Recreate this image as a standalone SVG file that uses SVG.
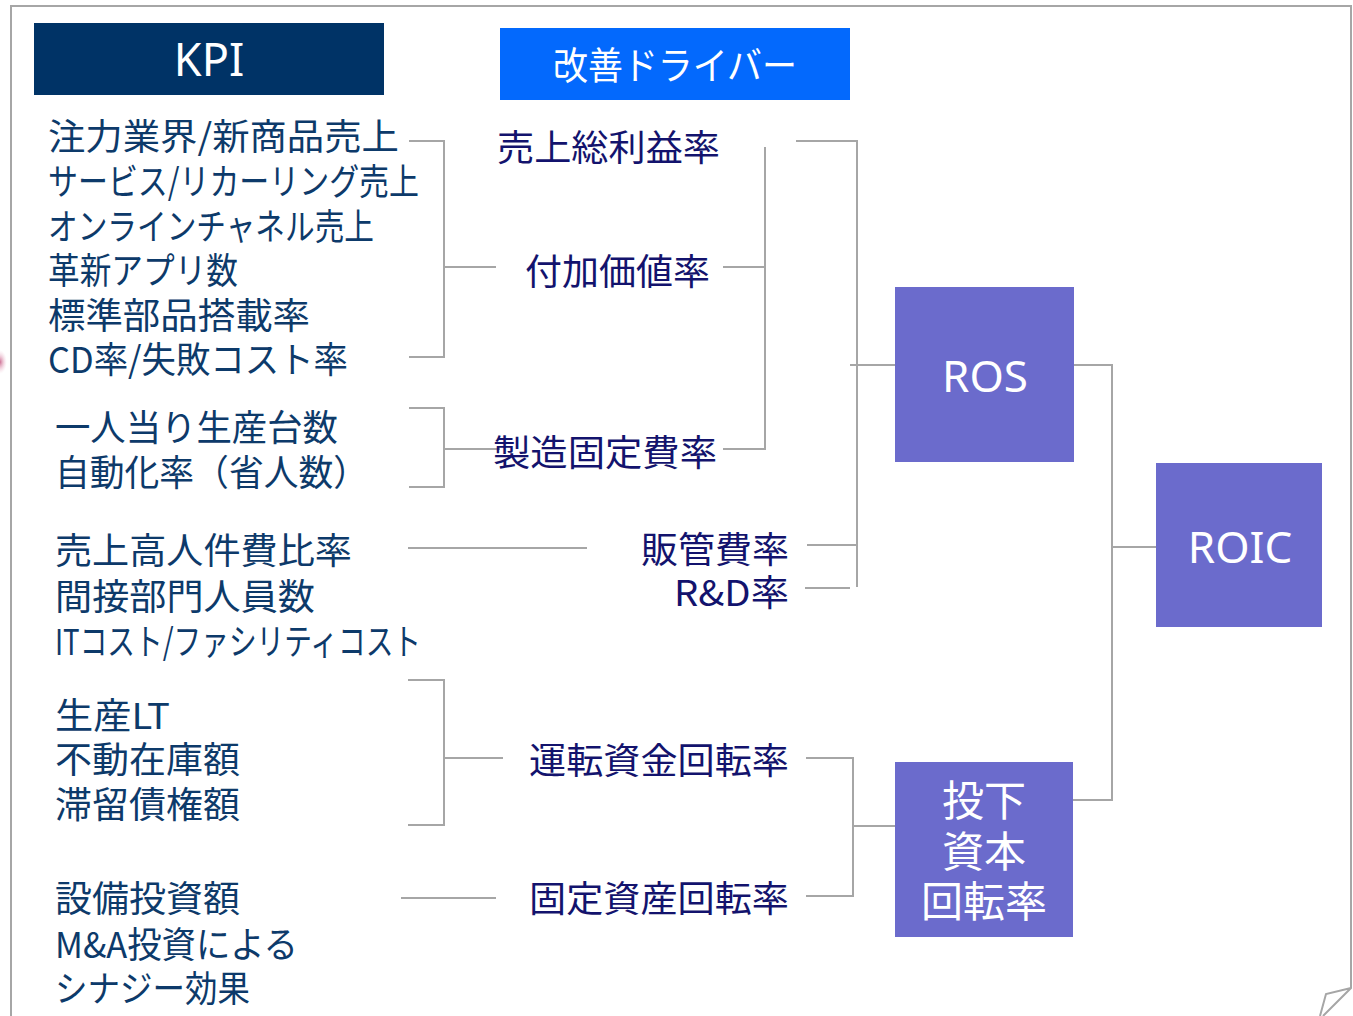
<svg xmlns="http://www.w3.org/2000/svg" width="1353" height="1016" viewBox="0 0 1353 1016">
<defs>
<style>
.frame{fill:none;stroke:#a6a6a6;stroke-width:2}
.conn{fill:none;stroke:#a6a6a6;stroke-width:2}
.kpi{font-family:"Noto Sans CJK JP","Noto Sans",sans-serif;font-size:36px;fill:#0d3a6a}
.drv{font-family:"Noto Sans CJK JP","Noto Sans",sans-serif;font-size:36px;fill:#13136d}
.hdr{font-family:"Noto Sans","Noto Sans CJK JP",sans-serif;fill:#ffffff;text-anchor:middle}
.box{fill:#6b6bcc}
.boxt{font-family:"Noto Sans","Noto Sans CJK JP",sans-serif;font-size:44px;fill:#ffffff;text-anchor:middle}
.boxj{font-family:"Noto Sans CJK JP",sans-serif;font-size:42px;fill:#ffffff;text-anchor:middle}
</style>
<radialGradient id="pink" cx="0.5" cy="0.5" r="0.5">
<stop offset="0" stop-color="#c04a78" stop-opacity="0.8"/>
<stop offset="1" stop-color="#f2c6d6" stop-opacity="0"/>
</radialGradient>
</defs>
<rect width="1353" height="1016" fill="#ffffff"/>
<ellipse cx="0" cy="362" rx="7" ry="12" fill="url(#pink)"/>
<path class="frame" d="M11,1016 V6 H1351 V988 L1323,1016 M1351,988 L1326,994 L1320,1016"/>

<g id="connectors">
<path class="conn" d="M409,141 H444 V357 H409 M444,267 H496"/>
<path class="conn" d="M409,408 H444 V487 H409 M444,449 H500"/>
<path class="conn" d="M408,548 H587"/>
<path class="conn" d="M408,680 H444 V825 H408 M444,758 H503"/>
<path class="conn" d="M401,898 H496"/>
<path class="conn" d="M765,147 V449 H723 M723,267 H765"/>
<path class="conn" d="M796,141 H857 V587 M857,545 H807 M805,588 H850 M850,365 H895"/>
<path class="conn" d="M1074,365 H1112 V800 H1073 M1112,547 H1156"/>
<path class="conn" d="M806,758 H853 V896 H806 M853,826 H895"/>
</g>

<g id="hdr-kpi">
<rect x="34" y="23" width="350" height="72" fill="#003366"/>
<text class="hdr" x="209" y="76" font-size="45">KPI</text>
</g>
<g id="hdr-driver">
<rect x="500" y="28" width="350" height="72" fill="#0369fd"/>
<text class="hdr" x="553" y="79" font-size="38" text-anchor="start" style="text-anchor:start" textLength="244" lengthAdjust="spacingAndGlyphs">改善ドライバー</text>
</g>

<g id="kpi-group1">
<text class="kpi" x="48" y="150" textLength="351" lengthAdjust="spacingAndGlyphs">注力業界/新商品売上</text>
<text class="kpi" x="48" y="195" textLength="371" lengthAdjust="spacingAndGlyphs">サービス/リカーリング売上</text>
<text class="kpi" x="48" y="240" textLength="326" lengthAdjust="spacingAndGlyphs">オンラインチャネル売上</text>
<text class="kpi" x="48" y="284" textLength="190" lengthAdjust="spacingAndGlyphs">革新アプリ数</text>
<text class="kpi" x="48" y="329" textLength="262" lengthAdjust="spacingAndGlyphs">標準部品搭載率</text>
<text class="kpi" x="48" y="373" textLength="300" lengthAdjust="spacingAndGlyphs">CD率/失敗コスト率</text>
</g>
<g id="kpi-group2">
<text class="kpi" x="55" y="441" textLength="283" lengthAdjust="spacingAndGlyphs">一人当り生産台数</text>
<text class="kpi" x="55" y="486" textLength="313" lengthAdjust="spacingAndGlyphs">自動化率（省人数）</text>
</g>
<g id="kpi-group3">
<text class="kpi" x="55" y="564" textLength="297" lengthAdjust="spacingAndGlyphs">売上高人件費比率</text>
<text class="kpi" x="55" y="610" textLength="260" lengthAdjust="spacingAndGlyphs">間接部門人員数</text>
<text class="kpi" x="55" y="655" textLength="366" lengthAdjust="spacingAndGlyphs">ITコスト/ファシリティコスト</text>
</g>
<g id="kpi-group4">
<text class="kpi" x="55" y="729" textLength="115" lengthAdjust="spacingAndGlyphs">生産LT</text>
<text class="kpi" x="55" y="773" textLength="185" lengthAdjust="spacingAndGlyphs">不動在庫額</text>
<text class="kpi" x="55" y="818" textLength="185" lengthAdjust="spacingAndGlyphs">滞留債権額</text>
</g>
<g id="kpi-group5">
<text class="kpi" x="55" y="912" textLength="185" lengthAdjust="spacingAndGlyphs">設備投資額</text>
<text class="kpi" x="55" y="958" textLength="243" lengthAdjust="spacingAndGlyphs">M&amp;A投資による</text>
<text class="kpi" x="55" y="1002" textLength="195" lengthAdjust="spacingAndGlyphs">シナジー効果</text>
</g>

<g id="drv-gross"><text class="drv" x="497" y="161" textLength="223" lengthAdjust="spacingAndGlyphs">売上総利益率</text></g>
<g id="drv-value"><text class="drv" x="525" y="285" textLength="185" lengthAdjust="spacingAndGlyphs">付加価値率</text></g>
<g id="drv-mfg"><text class="drv" x="493" y="466" textLength="224" lengthAdjust="spacingAndGlyphs">製造固定費率</text></g>
<g id="drv-sga"><text class="drv" x="641" y="563" textLength="148" lengthAdjust="spacingAndGlyphs">販管費率</text></g>
<g id="drv-rd"><text class="drv" x="674" y="606" textLength="115" lengthAdjust="spacingAndGlyphs">R&amp;D率</text></g>
<g id="drv-wc"><text class="drv" x="529" y="774" textLength="260" lengthAdjust="spacingAndGlyphs">運転資金回転率</text></g>
<g id="drv-fa"><text class="drv" x="529" y="912" textLength="260" lengthAdjust="spacingAndGlyphs">固定資産回転率</text></g>

<g id="node-ros">
<rect class="box" x="895" y="287" width="179" height="175"/>
<text class="boxt" x="985" y="392">ROS</text>
</g>
<g id="node-roic">
<rect class="box" x="1156" y="463" width="166" height="164"/>
<text class="boxt" x="1240" y="563">ROIC</text>
</g>
<g id="node-ict">
<rect class="box" x="895" y="762" width="178" height="175"/>
<text class="boxj" x="984" y="816">投下</text>
<text class="boxj" x="984" y="867">資本</text>
<text class="boxj" x="984" y="917">回転率</text>
</g>
</svg>
